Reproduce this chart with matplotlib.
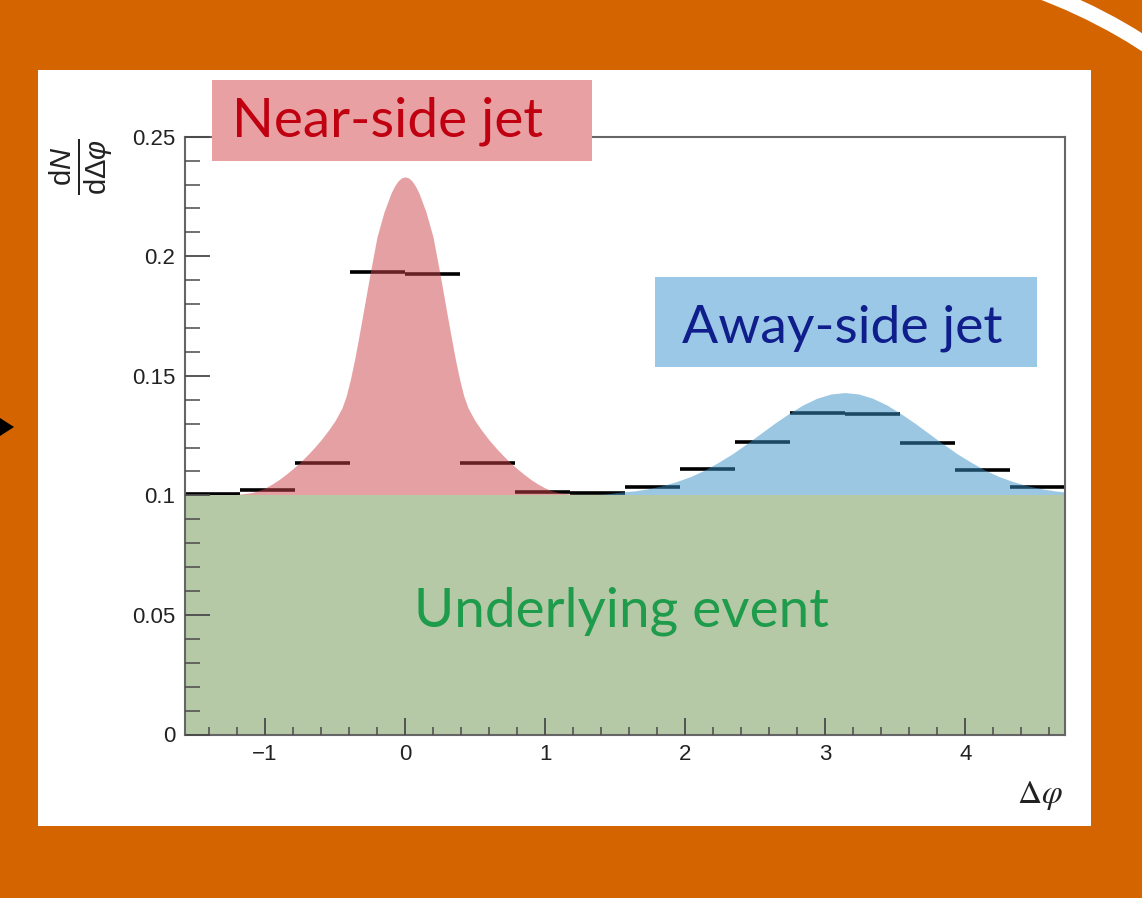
import numpy as np
import matplotlib
matplotlib.use("Agg")
import matplotlib.pyplot as plt
from matplotlib.patches import Rectangle, Arc, Polygon
from matplotlib.ticker import MultipleLocator, FuncFormatter

plt.rcParams["font.family"] = ["Liberation Sans", "DejaVu Sans"]
plt.rcParams["mathtext.fontset"] = "custom"
plt.rcParams["mathtext.rm"] = "Liberation Sans"
plt.rcParams["mathtext.it"] = "Liberation Sans:italic"

# histogram: 16 bins over [-pi/2, 3pi/2]
bin_values = [0.1006, 0.1023, 0.1135, 0.1934, 0.1926, 0.1135, 0.1016, 0.1010,
              0.1035, 0.1110, 0.1223, 0.1345, 0.1341, 0.1219, 0.1108, 0.1035]

# underlying event level
ue_level = 0.1

# near-side curve, half profile (distance from 0, value)
near_d = [0.0, 0.025, 0.05, 0.075, 0.10, 0.15, 0.20, 0.25, 0.30, 0.33, 0.36,
          0.39, 0.42, 0.45, 0.50, 0.55, 0.60, 0.65, 0.70, 0.75, 0.80, 0.85,
          0.90, 0.95, 1.00, 1.05, 1.10, 1.20, 1.30, np.pi / 2]
near_v = [0.2332, 0.2328, 0.2315, 0.2293, 0.2264, 0.2185, 0.2081, 0.1925,
          0.1760, 0.1662, 0.1568, 0.1485, 0.1415, 0.1366, 0.1312, 0.1270,
          0.1232, 0.1198, 0.1167, 0.1138, 0.1112, 0.1088, 0.1066, 0.1047,
          0.1031, 0.1019, 0.1011, 0.1004, 0.1001, 0.1000]

# away-side curve (x, value)
away_x = [1.34, 1.44, 1.54, 1.64, 1.74, 1.84, 1.94, 2.04, 2.14, 2.24, 2.34,
          2.44, 2.54, 2.64, 2.74, 2.84, 2.94, 3.04, 3.14, 3.24, 3.34, 3.44,
          3.54, 3.64, 3.74, 3.84, 3.94, 4.04, 4.14, 4.24, 4.34, 4.44, 4.54,
          4.64, 4.712]
away_v = [0.1002, 0.1006, 0.1014, 0.1019, 0.1028, 0.1041, 0.1058, 0.1079,
          0.1106, 0.1139, 0.1175, 0.1216, 0.1259, 0.1302, 0.1342, 0.1378,
          0.1406, 0.1424, 0.1430, 0.1424, 0.1406, 0.1378, 0.1342, 0.1302,
          0.1259, 0.1216, 0.1175, 0.1139, 0.1106, 0.1079, 0.1058, 0.1041,
          0.1028, 0.1019, 0.1014]

W, H = 1142, 898
fig = plt.figure(figsize=(W / 100, H / 100), dpi=100)
fig.patch.set_facecolor("#D46400")

# background decorations in pixel coords
bg = fig.add_axes([0, 0, 1, 1], zorder=0)
bg.set_xlim(0, W)
bg.set_ylim(H, 0)
bg.axis("off")
bg.add_patch(Rectangle((38, 70), 1053, 756, fc="white", ec="none"))
bg.add_patch(Arc((850, 500), 2 * 543, 2 * 543, theta1=-80, theta2=-40,
                 color="white", lw=11))
bg.add_patch(Polygon([(0, 418), (14, 427), (0, 436)], closed=True,
                     fc="black", ec="none"))

# main plot
ax = fig.add_axes([185 / W, 1 - 734.5 / H, 880 / W, 597.8 / H], zorder=1)
ax.set_xlim(-np.pi / 2, 3 * np.pi / 2)
ax.set_ylim(0, 0.25)

edges = np.linspace(-np.pi / 2, 3 * np.pi / 2, len(bin_values) + 1)
ax.hlines(bin_values, edges[:-1], edges[1:], color="black", lw=2.6, zorder=2)

nd = np.array(near_d)
nv = np.array(near_v)
near_x = np.concatenate([-nd[::-1], nd[1:]])
near_y = np.concatenate([nv[::-1], nv[1:]])
ax.fill_between(near_x, ue_level, near_y, color="#CD4349", alpha=0.5, lw=0,
                zorder=3)
ax.fill_between(away_x, ue_level, away_v, color="#3991C9", alpha=0.5, lw=0,
                zorder=3)
ax.fill_between([-np.pi / 2, 3 * np.pi / 2], 0, ue_level, color="#B5C9A7",
                lw=0, zorder=3)

ax.xaxis.set_major_locator(MultipleLocator(1))
ax.xaxis.set_minor_locator(MultipleLocator(0.2))
ax.yaxis.set_major_locator(MultipleLocator(0.05))
ax.yaxis.set_minor_locator(MultipleLocator(0.01))
fmt = FuncFormatter(lambda v, p: f"{v:g}".replace("-", "\u2212"))
ax.xaxis.set_major_formatter(fmt)
ax.yaxis.set_major_formatter(fmt)
ax.tick_params(which="both", direction="in", top=False, right=False,
               colors="#4a4a4a", labelcolor="#222222", labelsize=16)
ax.tick_params(axis="y", which="major", length=18, width=1.3, pad=7)
ax.tick_params(axis="y", which="minor", length=11, width=1.1)
ax.tick_params(axis="x", which="major", length=12, width=1.3, pad=7)
ax.tick_params(axis="x", which="minor", length=6, width=1.1)
ax.xaxis.set_zorder(5)
ax.yaxis.set_zorder(5)
for s in ax.spines.values():
    s.set_color("#666666")
    s.set_linewidth(1.5)
    s.set_zorder(4)

# overlay: label boxes and axis titles in pixel coords
ov = fig.add_axes([0, 0, 1, 1], zorder=2)
ov.set_xlim(0, W)
ov.set_ylim(H, 0)
ov.axis("off")
ov.patch.set_alpha(0)

ov.add_patch(Rectangle((212, 80), 380, 81, fc="#E8A0A3", ec="none"))
ov.text(388, 137, "Near-side jet", family=["Lato", "DejaVu Sans"],
        fontsize=39.5, color="#C00010", ha="center", va="baseline")
ov.add_patch(Rectangle((655, 277), 382, 90, fc="#9BC8E6", ec="none"))
ov.text(842, 342, "Away-side jet", family=["Lato", "DejaVu Sans"],
        fontsize=38.5, color="#101E8C", ha="center", va="baseline")
ov.text(621, 627, "Underlying event", family=["Lato", "DejaVu Sans"],
        fontsize=39.5, color="#1E9B4B", ha="center", va="baseline")

ov.text(1063, 795, r"$\Delta\varphi$", math_fontfamily="stix", fontsize=24,
        color="#222222", ha="right", va="center")
ov.text(82, 167, r"$\frac{\mathrm{d}N}{\mathrm{d}\Delta\varphi}$",
        fontsize=30, rotation=90, color="#222222", ha="center", va="center")

fig.savefig("out.png", dpi=100, facecolor=fig.get_facecolor())
